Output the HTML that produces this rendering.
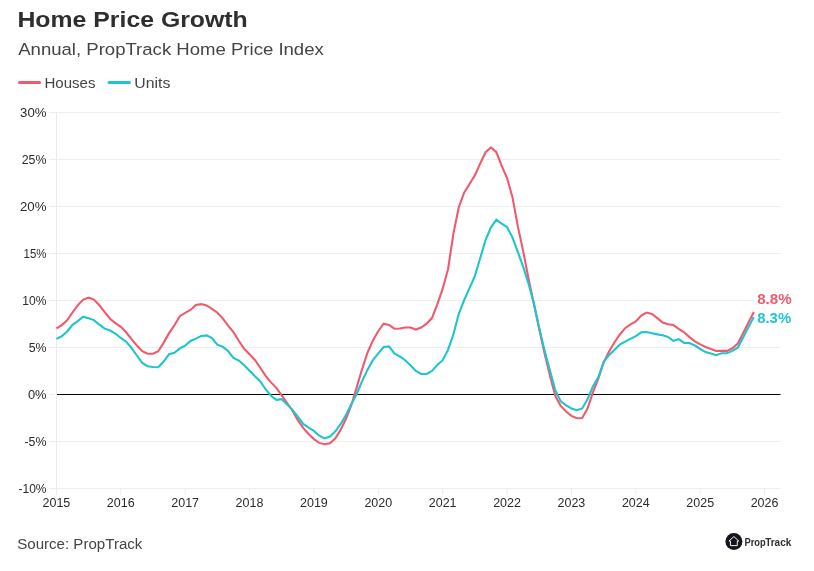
<!DOCTYPE html>
<html><head><meta charset="utf-8"><title>Home Price Growth</title>
<style>
html,body{margin:0;padding:0;background:#fff;}
body{width:814px;height:571px;overflow:hidden;font-family:"Liberation Sans",sans-serif;}
svg{display:block;font-family:"Liberation Sans",sans-serif;}
#wrap{width:814px;height:571px;will-change:transform;background:transparent;}
</style></head><body>
<div id="wrap"><svg width="814" height="571" viewBox="0 0 814 571">
<rect width="814" height="571" fill="#ffffff"/>

<text x="17.4" y="26.9" font-size="21.6" font-weight="700" fill="#2e2e2e" textLength="230.4" lengthAdjust="spacingAndGlyphs">Home Price Growth</text>
<text x="18.2" y="55.1" font-size="16.8" fill="#444444" textLength="305.6" lengthAdjust="spacingAndGlyphs">Annual, PropTrack Home Price Index</text>
<line x1="19.5" y1="82.5" x2="39.5" y2="82.5" stroke="#f05a6c" stroke-width="3" stroke-linecap="round"/>
<text x="44.5" y="88" font-size="14" fill="#444444" textLength="51" lengthAdjust="spacingAndGlyphs">Houses</text>
<line x1="109" y1="82.5" x2="129.5" y2="82.5" stroke="#1fc5ce" stroke-width="3" stroke-linecap="round"/>
<text x="134.3" y="88" font-size="14" fill="#444444" textLength="36" lengthAdjust="spacingAndGlyphs">Units</text>
<line x1="49" y1="112.5" x2="780.5" y2="112.5" stroke="#eeeeee" stroke-width="1"/>
<text x="46.5" y="116.8" font-size="12" fill="#2b2b2b" text-anchor="end" textLength="26.4" lengthAdjust="spacingAndGlyphs">30%</text>
<line x1="49" y1="159.5" x2="780.5" y2="159.5" stroke="#eeeeee" stroke-width="1"/>
<text x="46.5" y="163.8" font-size="12" fill="#2b2b2b" text-anchor="end" textLength="24.8" lengthAdjust="spacingAndGlyphs">25%</text>
<line x1="49" y1="206.5" x2="780.5" y2="206.5" stroke="#eeeeee" stroke-width="1"/>
<text x="46.5" y="210.8" font-size="12" fill="#2b2b2b" text-anchor="end" textLength="26.5" lengthAdjust="spacingAndGlyphs">20%</text>
<line x1="49" y1="253.5" x2="780.5" y2="253.5" stroke="#eeeeee" stroke-width="1"/>
<text x="46.5" y="257.8" font-size="12" fill="#2b2b2b" text-anchor="end" textLength="23" lengthAdjust="spacingAndGlyphs">15%</text>
<line x1="49" y1="300.5" x2="756" y2="300.5" stroke="#eeeeee" stroke-width="1"/>
<text x="46.5" y="304.8" font-size="12" fill="#2b2b2b" text-anchor="end" textLength="24.2" lengthAdjust="spacingAndGlyphs">10%</text>
<line x1="49" y1="347.5" x2="780.5" y2="347.5" stroke="#eeeeee" stroke-width="1"/>
<text x="46.5" y="351.8" font-size="12" fill="#2b2b2b" text-anchor="end" textLength="17.8" lengthAdjust="spacingAndGlyphs">5%</text>
<line x1="49" y1="394.5" x2="55.5" y2="394.5" stroke="#f0f0f0" stroke-width="1"/>
<line x1="56" y1="394.5" x2="780.5" y2="394.5" stroke="#000000" stroke-width="1.1"/>
<text x="46.5" y="398.8" font-size="12" fill="#2b2b2b" text-anchor="end" textLength="18.6" lengthAdjust="spacingAndGlyphs">0%</text>
<line x1="49" y1="441.5" x2="780.5" y2="441.5" stroke="#eeeeee" stroke-width="1"/>
<text x="46.5" y="445.8" font-size="12" fill="#2b2b2b" text-anchor="end" textLength="22" lengthAdjust="spacingAndGlyphs">-5%</text>
<line x1="49" y1="488.5" x2="780.5" y2="488.5" stroke="#eeeeee" stroke-width="1"/>
<text x="46.5" y="492.8" font-size="12" fill="#2b2b2b" text-anchor="end" textLength="28" lengthAdjust="spacingAndGlyphs">-10%</text>
<line x1="56.5" y1="112" x2="56.5" y2="495" stroke="#ececec" stroke-width="1"/>
<text x="56.40" y="506.5" font-size="12" fill="#2b2b2b" text-anchor="middle" textLength="27.8" lengthAdjust="spacingAndGlyphs">2015</text>
<line x1="120.78" y1="488.5" x2="120.78" y2="495" stroke="#ececec" stroke-width="1"/>
<text x="120.78" y="506.5" font-size="12" fill="#2b2b2b" text-anchor="middle" textLength="27.8" lengthAdjust="spacingAndGlyphs">2016</text>
<line x1="185.16" y1="488.5" x2="185.16" y2="495" stroke="#ececec" stroke-width="1"/>
<text x="185.16" y="506.5" font-size="12" fill="#2b2b2b" text-anchor="middle" textLength="27.8" lengthAdjust="spacingAndGlyphs">2017</text>
<line x1="249.54" y1="488.5" x2="249.54" y2="495" stroke="#ececec" stroke-width="1"/>
<text x="249.54" y="506.5" font-size="12" fill="#2b2b2b" text-anchor="middle" textLength="27.8" lengthAdjust="spacingAndGlyphs">2018</text>
<line x1="313.92" y1="488.5" x2="313.92" y2="495" stroke="#ececec" stroke-width="1"/>
<text x="313.92" y="506.5" font-size="12" fill="#2b2b2b" text-anchor="middle" textLength="27.8" lengthAdjust="spacingAndGlyphs">2019</text>
<line x1="378.30" y1="488.5" x2="378.30" y2="495" stroke="#ececec" stroke-width="1"/>
<text x="378.30" y="506.5" font-size="12" fill="#2b2b2b" text-anchor="middle" textLength="27.8" lengthAdjust="spacingAndGlyphs">2020</text>
<line x1="442.68" y1="488.5" x2="442.68" y2="495" stroke="#ececec" stroke-width="1"/>
<text x="442.68" y="506.5" font-size="12" fill="#2b2b2b" text-anchor="middle" textLength="27.8" lengthAdjust="spacingAndGlyphs">2021</text>
<line x1="507.06" y1="488.5" x2="507.06" y2="495" stroke="#ececec" stroke-width="1"/>
<text x="507.06" y="506.5" font-size="12" fill="#2b2b2b" text-anchor="middle" textLength="27.8" lengthAdjust="spacingAndGlyphs">2022</text>
<line x1="571.44" y1="488.5" x2="571.44" y2="495" stroke="#ececec" stroke-width="1"/>
<text x="571.44" y="506.5" font-size="12" fill="#2b2b2b" text-anchor="middle" textLength="27.8" lengthAdjust="spacingAndGlyphs">2023</text>
<line x1="635.82" y1="488.5" x2="635.82" y2="495" stroke="#ececec" stroke-width="1"/>
<text x="635.82" y="506.5" font-size="12" fill="#2b2b2b" text-anchor="middle" textLength="27.8" lengthAdjust="spacingAndGlyphs">2024</text>
<line x1="700.20" y1="488.5" x2="700.20" y2="495" stroke="#ececec" stroke-width="1"/>
<text x="700.20" y="506.5" font-size="12" fill="#2b2b2b" text-anchor="middle" textLength="27.8" lengthAdjust="spacingAndGlyphs">2025</text>
<line x1="764.58" y1="488.5" x2="764.58" y2="495" stroke="#ececec" stroke-width="1"/>
<text x="764.58" y="506.5" font-size="12" fill="#2b2b2b" text-anchor="middle" textLength="27.8" lengthAdjust="spacingAndGlyphs">2026</text>
<path d="M56.40,328.34 L61.77,325.07 L67.13,320.26 L72.50,312.52 L77.86,305.12 L83.22,299.62 L88.59,297.73 L93.95,299.62 L99.32,305.29 L104.69,312.17 L110.05,318.71 L115.41,323.18 L120.78,326.79 L126.14,332.30 L131.51,339.18 L136.88,345.54 L142.24,351.22 L147.60,353.80 L152.97,353.80 L158.33,351.22 L163.70,342.62 L169.06,333.16 L174.43,325.26 L179.79,316.14 L185.16,312.87 L190.52,309.95 L195.89,304.96 L201.25,304.10 L206.62,305.48 L211.98,308.92 L217.35,312.70 L222.71,318.38 L228.08,325.60 L233.44,332.14 L238.81,340.74 L244.17,348.82 L249.54,354.15 L254.90,360.00 L260.27,367.74 L265.63,375.82 L271.00,382.36 L276.36,387.86 L281.73,395.26 L287.09,403.00 L292.46,410.74 L297.82,420.20 L303.19,427.94 L308.55,433.96 L313.92,439.12 L319.28,442.90 L324.65,444.28 L330.01,443.24 L335.38,438.26 L340.74,429.66 L346.11,418.48 L351.47,404.72 L356.84,386.86 L362.20,368.80 L367.57,352.46 L372.93,340.42 L378.30,330.96 L383.66,323.73 L389.03,324.94 L394.39,328.72 L399.76,328.55 L405.12,327.52 L410.49,327.52 L415.85,329.58 L421.22,327.52 L426.58,323.73 L431.95,318.06 L437.31,304.30 L442.68,288.70 L448.04,269.18 L453.41,233.57 L458.77,207.24 L464.14,192.62 L469.50,184.02 L474.87,175.42 L480.23,163.38 L485.60,152.20 L490.96,147.38 L496.33,152.20 L501.69,165.96 L507.06,178.00 L512.42,196.92 L517.79,226.15 L523.15,251.12 L528.52,278.64 L533.88,303.76 L539.25,329.21 L544.61,353.44 L549.98,375.80 L555.34,396.09 L560.71,405.90 L566.07,411.57 L571.44,415.87 L576.80,418.28 L582.17,417.94 L587.53,408.48 L592.90,392.30 L598.26,378.80 L603.63,362.40 L608.99,351.72 L614.36,342.46 L619.72,334.72 L625.09,328.18 L630.45,324.40 L635.82,321.46 L641.18,315.61 L646.55,312.52 L651.91,313.89 L657.28,318.19 L662.64,322.49 L668.01,324.21 L673.37,325.07 L678.74,328.86 L684.10,332.30 L689.47,337.11 L694.83,341.41 L700.20,344.34 L705.56,346.92 L710.93,348.98 L716.29,350.87 L721.66,350.87 L727.02,350.87 L732.39,348.29 L737.75,343.48 L743.12,333.16 L748.48,322.49 L753.85,312.00" fill="none" stroke="#f05a6c" stroke-width="2.1" stroke-linejoin="miter" stroke-linecap="butt"/>
<path d="M56.40,338.83 L61.77,336.25 L67.13,331.44 L72.50,324.90 L77.86,321.12 L83.22,316.65 L88.59,318.19 L93.95,320.09 L99.32,324.56 L104.69,328.69 L110.05,330.58 L115.41,333.50 L120.78,337.97 L126.14,341.76 L131.51,347.78 L136.88,355.52 L142.24,362.91 L147.60,366.18 L152.97,367.04 L158.33,367.21 L163.70,361.54 L169.06,354.14 L174.43,352.78 L179.79,348.48 L185.16,345.55 L190.52,340.91 L195.89,338.67 L201.25,335.92 L206.62,335.41 L211.98,338.16 L217.35,344.69 L222.71,346.76 L228.08,351.06 L233.44,357.94 L238.81,360.52 L244.17,365.16 L249.54,370.66 L254.90,376.34 L260.27,381.50 L265.63,389.24 L271.00,395.77 L276.36,399.90 L281.73,399.21 L287.09,404.37 L292.46,409.88 L297.82,416.76 L303.19,423.98 L308.55,427.59 L313.92,430.86 L319.28,435.68 L324.65,438.43 L330.01,436.54 L335.38,431.38 L340.74,423.98 L346.11,414.69 L351.47,403.86 L356.84,393.73 L362.20,380.84 L367.57,369.66 L372.93,360.20 L378.30,353.32 L383.66,346.95 L389.03,346.44 L394.39,353.32 L399.76,356.41 L405.12,360.20 L410.49,365.36 L415.85,370.86 L421.22,373.96 L426.58,373.96 L431.95,370.86 L437.31,365.01 L442.68,360.20 L448.04,349.88 L453.41,334.40 L458.77,313.80 L464.14,300.14 L469.50,288.10 L474.87,276.06 L480.23,258.00 L485.60,239.94 L490.96,227.38 L496.33,219.82 L501.69,223.60 L507.06,227.04 L512.42,237.36 L517.79,251.98 L523.15,266.60 L528.52,283.80 L533.88,303.42 L539.25,328.18 L544.61,350.86 L549.98,370.64 L555.34,390.42 L560.71,401.25 L566.07,405.38 L571.44,408.48 L576.80,410.20 L582.17,408.48 L587.53,399.30 L592.90,386.50 L598.26,377.40 L603.63,362.20 L608.99,355.16 L614.36,350.00 L619.72,344.69 L625.09,341.60 L630.45,338.83 L635.82,336.08 L641.18,332.30 L646.55,331.95 L651.91,333.16 L657.28,334.36 L662.64,335.22 L668.01,336.94 L673.37,340.90 L678.74,339.18 L684.10,342.96 L689.47,342.96 L694.83,345.54 L700.20,348.98 L705.56,352.08 L710.93,353.45 L716.29,355.17 L721.66,353.28 L727.02,353.28 L732.39,350.87 L737.75,347.78 L743.12,337.46 L748.48,327.14 L753.85,316.99" fill="none" stroke="#1fc5ce" stroke-width="2.1" stroke-linejoin="miter" stroke-linecap="butt"/>
<text x="757.2" y="303.9" font-size="14.8" font-weight="700" fill="#f05a6c" textLength="34.5" lengthAdjust="spacingAndGlyphs">8.8%</text>
<text x="757.2" y="322.8" font-size="14.8" font-weight="700" fill="#1fc5ce" textLength="34" lengthAdjust="spacingAndGlyphs">8.3%</text>
<text x="17.2" y="549" font-size="14" fill="#444444" textLength="125.2" lengthAdjust="spacingAndGlyphs">Source: PropTrack</text>
<g>
<circle cx="733.9" cy="541.6" r="8.5" fill="#16151b"/>
<path d="M733.85,536.55 L738.8,541.0 L737.3,541.0 L737.3,545.6 L730.45,545.6 L730.45,541.0 L728.95,541.0 Z" fill="none" stroke="#ffffff" stroke-width="0.95" stroke-linejoin="round"/>
<text x="744.5" y="545.7" font-size="11" font-weight="700" fill="#2f2e35" textLength="21.2" lengthAdjust="spacingAndGlyphs">Prop</text>
<text x="765.2" y="545.7" font-size="11" font-weight="700" fill="#2f2e35" textLength="26.1" lengthAdjust="spacingAndGlyphs">Track</text>
</g>
</svg></div></body></html>
